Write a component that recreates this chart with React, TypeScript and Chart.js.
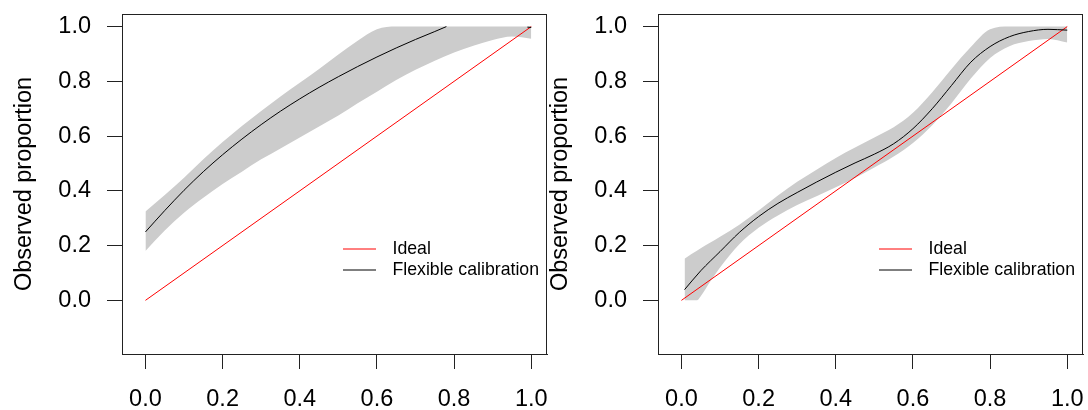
import React, { useEffect, useRef } from "react";
import { Chart, registerables } from "chart.js";

Chart.register(...registerables);

// ---------- shared ----------
const xTicks = [0, 0.2, 0.4, 0.6, 0.8, 1.0];
const yTicks = [0, 0.2, 0.4, 0.6, 0.8, 1.0];
const idealX = [0, 1];
const idealY = [0, 1];
const legendLabels = ["Ideal", "Flexible calibration"];
const yTitle = "Observed proportion";

// ---------- left panel ----------
const leftCurveX = [0, 0.05, 0.1, 0.15, 0.2, 0.25, 0.3, 0.35, 0.4, 0.45, 0.5, 0.55, 0.6, 0.65, 0.7, 0.75, 0.78, 0.8, 0.99, 1.0];
const leftCurveY = [0.25, 0.328, 0.402, 0.47, 0.532, 0.589, 0.642, 0.691, 0.736, 0.778, 0.817, 0.854, 0.889, 0.922, 0.953, 0.982, 1.0, null, 0.998, 0.997];
const leftBandX = [0, 0.05, 0.1, 0.15, 0.2, 0.25, 0.3, 0.35, 0.4, 0.45, 0.5, 0.55, 0.6, 0.65, 0.7, 0.75, 0.8, 0.85, 0.9, 0.95, 1.0];
const leftUpper = [0.325, 0.385, 0.448, 0.515, 0.578, 0.637, 0.692, 0.745, 0.795, 0.845, 0.898, 0.948, 0.99, 1.0, 1.0, 1.0, 1.0, 1.0, 1.0, 1.0, 1.0];
const leftLower = [0.18, 0.255, 0.32, 0.375, 0.425, 0.47, 0.515, 0.555, 0.595, 0.635, 0.675, 0.72, 0.762, 0.805, 0.842, 0.875, 0.905, 0.93, 0.951, 0.964, 0.956];

// ---------- right panel ----------
const rightCurveX = [0.008, 0.05, 0.1, 0.15, 0.2, 0.25, 0.3, 0.35, 0.4, 0.45, 0.5, 0.55, 0.6, 0.65, 0.7, 0.75, 0.8, 0.85, 0.9, 0.95, 1.0];
const rightCurveY = [0.039, 0.108, 0.178, 0.248, 0.306, 0.354, 0.394, 0.432, 0.468, 0.502, 0.534, 0.572, 0.627, 0.7, 0.785, 0.87, 0.927, 0.963, 0.982, 0.99, 0.987];
const rightBandX = [0.008, 0.025, 0.04, 0.05, 0.075, 0.1, 0.15, 0.2, 0.25, 0.3, 0.35, 0.4, 0.45, 0.5, 0.55, 0.6, 0.65, 0.7, 0.75, 0.8, 0.85, 0.9, 0.95, 1.0];
const rightUpper = [0.152, 0.168, 0.181, 0.19, 0.211, 0.232, 0.276, 0.328, 0.383, 0.433, 0.477, 0.52, 0.558, 0.595, 0.632, 0.685, 0.76, 0.845, 0.925, 0.99, 1.0, 1.0, 1.0, 1.0];
const rightLower = [0.0, 0.0, 0.0, 0.015, 0.07, 0.12, 0.205, 0.265, 0.31, 0.348, 0.38, 0.413, 0.447, 0.485, 0.525, 0.575, 0.64, 0.72, 0.81, 0.885, 0.928, 0.947, 0.955, 0.942];

const FONT = "'Liberation Sans', Arial, Helvetica, sans-serif";
const AXIS_FONT = 23.5;
const LEGEND_FONT = 17.7;
const BAND = "#cccccc";

const pts = (xs: number[], ys: (number | null)[]) => xs.map((x, i) => ({ x, y: ys[i] }));

const boxAndLegend = {
  id: "boxAndLegend",
  afterDraw(chart: any) {
    const { ctx, chartArea: ca } = chart;
    ctx.save();
    ctx.strokeStyle = "#222";
    ctx.lineWidth = 1;
    ctx.strokeRect(ca.left + 0.5, ca.top + 0.5, ca.right - ca.left - 1, ca.bottom - ca.top);
    // legend
    const lx0 = ca.left + 221;
    const lx1 = ca.left + 254;
    const tx = ca.left + 270.5;
    const ys = [ca.top + 235, ca.top + 256];
    const cols = ["#ff0000", "#000000"];
    ctx.font = `${LEGEND_FONT}px ${FONT}`;
    ctx.textBaseline = "middle";
    ctx.textAlign = "left";
    legendLabels.forEach((lab, i) => {
      ctx.strokeStyle = cols[i];
      ctx.beginPath();
      ctx.moveTo(lx0, ys[i]);
      ctx.lineTo(lx1, ys[i]);
      ctx.stroke();
      ctx.fillStyle = "#000";
      ctx.fillText(lab, tx, ys[i] + 0.5);
    });
    ctx.restore();
  },
};

type PanelProps = {
  left: number;
  curveX: number[];
  curveY: (number | null)[];
  bandX: number[];
  upper: number[];
  lower: number[];
};

function Panel(p: PanelProps) {
  const ref = useRef<HTMLCanvasElement>(null);
  useEffect(() => {
    const chart = new Chart(ref.current as HTMLCanvasElement, {
      type: "line",
      data: {
        datasets: [
          {
            label: "Flexible calibration",
            data: pts(p.curveX, p.curveY),
            borderColor: "#000000",
            borderWidth: 1,
            pointRadius: 0,
            fill: false,
            cubicInterpolationMode: "monotone",
          },
          {
            label: "Ideal",
            data: pts(idealX, idealY),
            borderColor: "#ff0000",
            borderWidth: 1,
            pointRadius: 0,
            fill: false,
          },
          {
            label: "upper",
            data: pts(p.bandX, p.upper),
            borderColor: "rgba(0,0,0,0)",
            borderWidth: 0,
            pointRadius: 0,
            backgroundColor: BAND,
            fill: "+1",
            cubicInterpolationMode: "monotone",
          },
          {
            label: "lower",
            data: pts(p.bandX, p.lower),
            borderColor: "rgba(0,0,0,0)",
            borderWidth: 0,
            pointRadius: 0,
            fill: false,
            cubicInterpolationMode: "monotone",
          },
        ],
      },
      options: {
        animation: false,
        responsive: false,
        maintainAspectRatio: false,
        events: [],
        layout: { padding: { left: 0, top: 14, right: 5, bottom: 0 } },
        plugins: {
          legend: { display: false },
          tooltip: { enabled: false },
          title: { display: false },
          filler: { drawTime: "beforeDatasetsDraw" },
        } as any,
        scales: {
          x: {
            type: "linear",
            min: -0.0608,
            max: 1.0408,
            afterFit: (s: any) => {
              s.height = 56;
              s.paddingLeft = 0;
              s.paddingRight = 0;
            },
            afterBuildTicks: (s: any) => {
              s.ticks = xTicks.map((v) => ({ value: v }));
            },
            grid: { drawOnChartArea: false, drawTicks: true, tickLength: 15, color: "#222", lineWidth: 1 },
            border: { display: true, color: "#222", width: 1 },
            ticks: {
              padding: 16,
              autoSkip: false,
              maxRotation: 0,
              color: "#000",
              font: { family: FONT, size: AXIS_FONT },
              callback: (v: any) => Number(v).toFixed(1),
            },
          },
          y: {
            type: "linear",
            min: -0.196,
            max: 1.046,
            afterFit: (s: any) => {
              s.width = 122;
              s.paddingTop = 0;
              s.paddingBottom = 0;
            },
            afterBuildTicks: (s: any) => {
              s.ticks = yTicks.map((v) => ({ value: v }));
            },
            grid: { drawOnChartArea: false, drawTicks: true, tickLength: 15, color: "#222", lineWidth: 1 },
            border: { display: true, color: "#222", width: 1 },
            ticks: {
              padding: 16,
              autoSkip: false,
              color: "#000",
              font: { family: FONT, size: AXIS_FONT },
              callback: (v: any) => Number(v).toFixed(1),
            },
            title: {
              display: true,
              text: yTitle,
              color: "#000",
              font: { family: FONT, size: AXIS_FONT },
              padding: { top: 10, bottom: 0 },
            },
          },
        },
      } as any,
      plugins: [boxAndLegend],
    });
    return () => chart.destroy();
  }, []);
  return (
    <canvas
      ref={ref}
      width={552}
      height={410}
      style={{ position: "absolute", left: p.left, top: 0, width: 552, height: 410 }}
    />
  );
}

export default function App() {
  return (
    <div
      style={{
        position: "fixed",
        left: 0,
        top: 0,
        width: 1088,
        height: 410,
        background: "#ffffff",
        overflow: "hidden",
      }}
    >
      <Panel left={0} curveX={leftCurveX} curveY={leftCurveY} bandX={leftBandX} upper={leftUpper} lower={leftLower} />
      <Panel left={536} curveX={rightCurveX} curveY={rightCurveY} bandX={rightBandX} upper={rightUpper} lower={rightLower} />
    </div>
  );
}
